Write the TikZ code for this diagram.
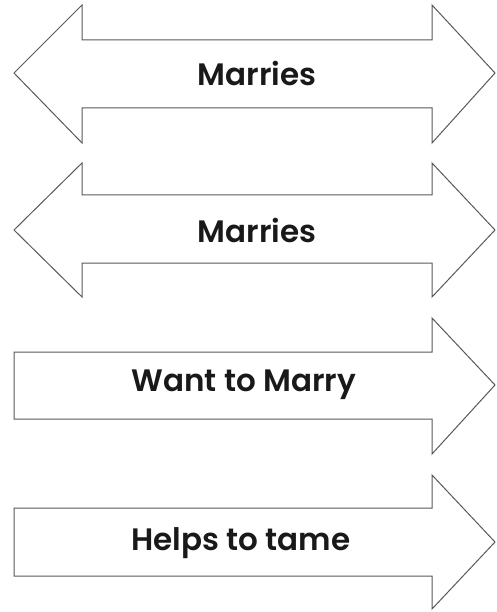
\documentclass[tikz,border=0pt]{standalone}
\usepackage{fontspec}
\setmainfont{Poppins}[BoldFont={Poppins SemiBold}]
\begin{document}
\begin{tikzpicture}[x=1pt,y=-1pt,
  arrowshape/.style={draw=black!65, line width=1pt, fill=white, line join=miter},
  lbl/.style={font=\fontsize{31}{36}\bfseries\selectfont, text=black!90, inner sep=0pt}]
\useasboundingbox (0,0) rectangle (496,612);
% arrow 1: double
\draw[arrowshape] (14,73) -- (82,5) -- (82,40) -- (432,40) -- (432,5) -- (495,73) -- (432,143) -- (432,108) -- (82,108) -- (82,143) -- cycle;
\node[lbl] (t1) at (257,73) {Marries};
% arrow 2: double
\draw[arrowshape] (14,230) -- (82,163) -- (82,195) -- (432,195) -- (432,163) -- (495,230) -- (432,297) -- (432,263) -- (82,263) -- (82,297) -- cycle;
\node[lbl] (t2) at (257,230) {Marries};
% arrow 3: right
\draw[arrowshape] (14,352) -- (432,352) -- (432,318) -- (495,385) -- (432,454) -- (432,419) -- (14,419) -- cycle;
\node[lbl] (t3) at (244,385) {Want to Marry};
% arrow 4: right
\draw[arrowshape] (14,508) -- (432,508) -- (432,475) -- (495,542) -- (432,609) -- (432,576) -- (14,576) -- cycle;
\node[lbl] (t4) at (241,543) {Helps to tame};
\end{tikzpicture}
\end{document}
